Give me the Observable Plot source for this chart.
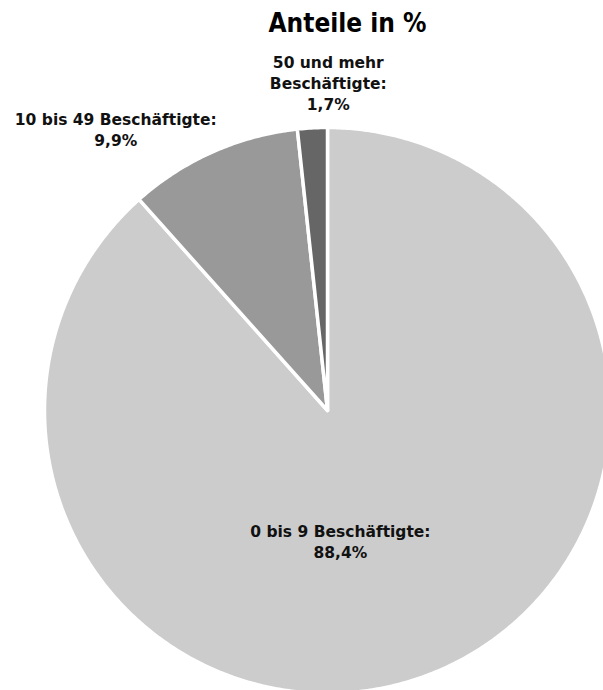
<!DOCTYPE html>
<html><head><meta charset="utf-8">
<script src="https://cdn.jsdelivr.net/npm/d3@7"></script>
<script src="https://cdn.jsdelivr.net/npm/@observablehq/plot@0.6"></script>
<style>
html,body{margin:0;padding:0;background:#fff;overflow:hidden;width:603px;height:690px;}
#title{font-family:"DejaVu Sans Condensed","DejaVu Sans",sans-serif;font-weight:bold;font-size:26px;height:45px;line-height:26px;padding-top:10px;box-sizing:border-box;text-align:center;padding-left:92px;color:#000;}
#chart svg{display:block;overflow:visible;}
</style></head><body>
<div id="title">Anteile in %</div>
<div id="chart"></div>
<script>
const categories = ["0 bis 9 Beschäftigte", "10 bis 49 Beschäftigte", "50 und mehr Beschäftigte"];
const labelTexts = ["0 bis 9 Beschäftigte:\n88,4%", "10 bis 49 Beschäftigte:\n9,9%", "50 und mehr\nBeschäftigte:\n1,7%"];
const shares = [88.4, 9.9, 1.7];
const colors = ["#cccccc", "#999999", "#666666"];

const table = categories.map((c, i) => ({category: c, share: shares[i], label: labelTexts[i]}));
const arcs = d3.pie().sort(null).value(d => d.share).startAngle(0).endAngle(2 * Math.PI)(table);

// slice outlines in unit-circle coordinates (angle 0 at 12 o'clock, clockwise)
const slicePoints = arcs.map(a => {
  const pts = [{category: a.data.category, x: 0, y: 0}];
  const n = Math.max(2, Math.ceil((a.endAngle - a.startAngle) / (Math.PI / 360)));
  for (let k = 0; k <= n; k++) {
    const t = a.startAngle + (a.endAngle - a.startAngle) * k / n;
    pts.push({category: a.data.category, x: Math.sin(t), y: Math.cos(t)});
  }
  pts.push({category: a.data.category, x: 0, y: 0});
  return pts;
});

// label placement: radius factor and angle offset (degrees) from slice mid-angle
const place = [{r: 0.461, dA: 15.2}, {r: 1.245, dA: -13.0}, {r: 1.161, dA: 3.2}];
const labels = arcs.map((a, i) => {
  const t = (a.startAngle + a.endAngle) / 2 + place[i].dA * Math.PI / 180;
  return {label: a.data.label, x: place[i].r * Math.sin(t), y: place[i].r * Math.cos(t)};
});

const cx = 327, cy = 365, R = 283;
const chart = Plot.plot({
  width: 603,
  height: 645,
  margin: 0,
  x: {domain: [-1, 1], range: [cx - R, cx + R], axis: null},
  y: {domain: [-1, 1], range: [cy + R, cy - R], axis: null},
  color: {domain: categories, range: colors},
  style: {background: "white", overflow: "visible"},
  marks: [
    ...slicePoints.map(pts => Plot.line(pts, {
      x: "x", y: "y", z: "category", fill: "category",
      stroke: "white", strokeWidth: 3.5, strokeLinejoin: "round", curve: "linear"
    })),
    Plot.text(labels, {
      x: "x", y: "y", text: "label",
      fontFamily: "DejaVu Sans, sans-serif", fontWeight: "bold", fontSize: 15.5,
      lineHeight: 1.36, fill: "#111", textAnchor: "middle"
    })
  ]
});
document.getElementById("chart").appendChild(chart);
</script>
</body></html>
